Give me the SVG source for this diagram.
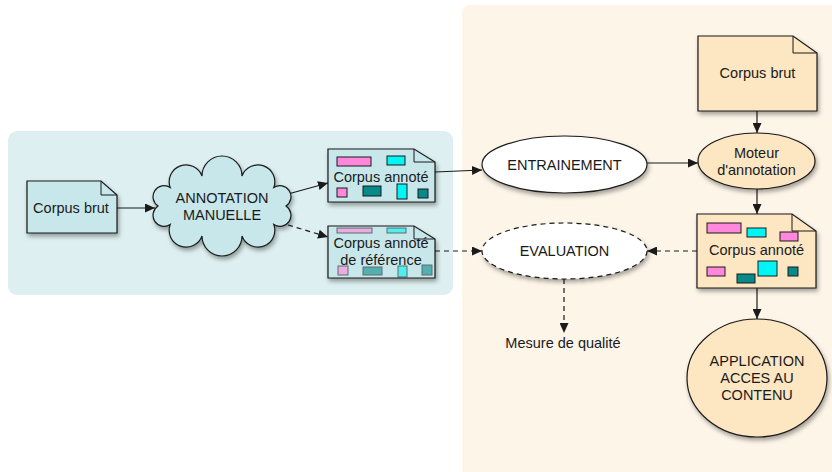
<svg xmlns="http://www.w3.org/2000/svg" width="832" height="472" viewBox="0 0 832 472">
<style>
text{font-family:"Liberation Sans",Arial,sans-serif;font-size:14.5px;fill:#1a1a1a;text-anchor:middle}
.doc{stroke:#1a1a1a;stroke-width:1.2}
.teal{fill:#c8e7ea}
.sand{fill:#fde6c2}
.fold{fill:none;stroke:#1a1a1a;stroke-width:1}
.c{stroke:#1a1a1a;stroke-width:1.2;fill:none}
.d{stroke-dasharray:5,4}
.pk{fill:#ff88dd;stroke:#1a1a1a;stroke-width:1}
.cy{fill:#00f5f5;stroke:#1a1a1a;stroke-width:1}
.tl{fill:#078a8a;stroke:#1a1a1a;stroke-width:1}
.faded{opacity:0.6}
</style>
<defs>
<filter id="sh" x="-20%" y="-20%" width="150%" height="160%">
<feDropShadow dx="1.5" dy="3" stdDeviation="2" flood-color="#000" flood-opacity="0.35"/>
</filter>
<marker id="ah" markerUnits="userSpaceOnUse" markerWidth="11" markerHeight="9" refX="10" refY="4.5" orient="auto">
<path d="M0,0 L10,4.5 L0,9 Z" fill="#1a1a1a"/>
</marker>
</defs>
<rect x="0" y="0" width="832" height="472" fill="#ffffff"/>
<rect x="8" y="131" width="445" height="164" rx="9" fill="#ddeff0"/>
<path d="M471,5 H832 V472 H462 V14 Q462,5 471,5 Z" fill="#fdf5e8"/>

<g id="connectors">
<path class="c" d="M117,208 L155,208" marker-end="url(#ah)"/>
<path class="c" d="M288,194 L328,183" marker-end="url(#ah)"/>
<path class="c d" d="M288,225 L328,237" marker-end="url(#ah)"/>
<path class="c" d="M435,172 L482,170" marker-end="url(#ah)"/>
<path class="c d" d="M435,251 L482,251" marker-end="url(#ah)"/>
<path class="c" d="M647,163 L698,163" marker-end="url(#ah)"/>
<path class="c" d="M757,111 L757,133" marker-end="url(#ah)"/>
<path class="c" d="M757,189 L757,214" marker-end="url(#ah)"/>
<path class="c d" d="M697,251 L647,251" marker-end="url(#ah)"/>
<path class="c d" d="M564,279 L564,333" marker-end="url(#ah)"/>
<path class="c" d="M757,288 L757,319" marker-end="url(#ah)"/>
</g>

<g id="corpus-brut-left">
<path class="doc teal" filter="url(#sh)" d="M27,181 H101 L117,195 V233 H27 Z"/>
<path class="fold" d="M101,181 V195 H117"/>
<text x="71" y="213">Corpus brut</text>
</g>

<g id="annotation-manuelle">
<path class="doc teal" filter="url(#sh)" d="M286,206 A1,1 0 0 1 273.8,224.5 A1,1 0 0 1 242,236 A1,1 0 0 1 202,236 A1,1 0 0 1 170.2,224.5 A1,1 0 0 1 158,206 A1,1 0 0 1 170.2,187.5 A1,1 0 0 1 202,176 A1,1 0 0 1 242,176 A1,1 0 0 1 273.8,187.5 A1,1 0 0 1 286,206 Z"/>
<text x="222" y="203">ANNOTATION</text>
<text x="222" y="220">MANUELLE</text>
</g>

<g id="corpus-annote-left">
<path class="doc teal" filter="url(#sh)" d="M328,149 H414 L435,162 V202 H328 Z"/>
<path class="fold" d="M414,149 V162 H435"/>
<rect class="pk" x="337" y="157" width="34" height="9"/>
<rect class="cy" x="387" y="156" width="18" height="9"/>
<text x="381" y="182">Corpus annoté</text>
<rect class="pk" x="337" y="188" width="10" height="9"/>
<rect class="tl" x="363" y="186" width="18" height="10"/>
<rect class="cy" x="397" y="184" width="10" height="15"/>
<rect class="tl" x="418" y="189" width="10" height="9"/>
</g>

<g id="corpus-annote-reference">
<path class="doc teal" filter="url(#sh)" d="M328,226 H414 L435,239 V278 H328 Z"/>
<path class="fold" d="M414,226 V239 H435"/>
<g class="faded">
<rect class="pk" x="337" y="228" width="35" height="5"/>
<rect class="cy" x="387" y="228" width="19" height="5"/>
<rect class="pk" x="338" y="266" width="10" height="9"/>
<rect class="tl" x="363" y="267" width="19" height="8"/>
<rect class="cy" x="398" y="266" width="9" height="11"/>
<rect class="tl" x="422" y="265" width="10" height="10"/>
</g>
<text x="381" y="248">Corpus annoté</text>
<text x="381" y="265">de référence</text>
</g>

<g id="entrainement">
<ellipse class="doc" filter="url(#sh)" cx="564.5" cy="164.5" rx="82.5" ry="28.5" fill="#ffffff"/>
<text x="564.5" y="169.5">ENTRAINEMENT</text>
</g>

<g id="evaluation">
<ellipse class="doc" filter="url(#sh)" cx="564.5" cy="251" rx="82.5" ry="28" fill="#ffffff" stroke-dasharray="5,4"/>
<text x="564.5" y="256">EVALUATION</text>
</g>

<g id="mesure-qualite">
<text x="563" y="348">Mesure de qualité</text>
</g>

<g id="corpus-brut-right">
<path class="doc sand" filter="url(#sh)" d="M698,36 H793 L817,53 V111 H698 Z"/>
<path class="fold" d="M793,36 V53 H817"/>
<text x="757.5" y="78">Corpus brut</text>
</g>

<g id="moteur">
<ellipse class="doc sand" filter="url(#sh)" cx="756.5" cy="161" rx="58.5" ry="28"/>
<text x="756.5" y="158">Moteur</text>
<text x="756.5" y="175">d'annotation</text>
</g>

<g id="corpus-annote-right">
<path class="doc sand" filter="url(#sh)" d="M697,214 H792 L816,231 V288 H697 Z"/>
<path class="fold" d="M792,214 V231 H816"/>
<rect class="pk" x="707" y="223" width="34" height="10"/>
<rect class="cy" x="747" y="228" width="19" height="9"/>
<rect class="pk" x="780" y="232" width="18" height="9"/>
<text x="756.5" y="255">Corpus annoté</text>
<rect class="pk" x="707" y="267" width="18" height="9"/>
<rect class="tl" x="737" y="274" width="18" height="9"/>
<rect class="cy" x="758" y="261" width="19" height="15"/>
<rect class="tl" x="788" y="267" width="10" height="9"/>
</g>

<g id="application">
<ellipse class="doc sand" filter="url(#sh)" cx="757" cy="378" rx="70" ry="59"/>
<text x="757" y="366">APPLICATION</text>
<text x="757" y="383">ACCES AU</text>
<text x="757" y="400">CONTENU</text>
</g>
</svg>
